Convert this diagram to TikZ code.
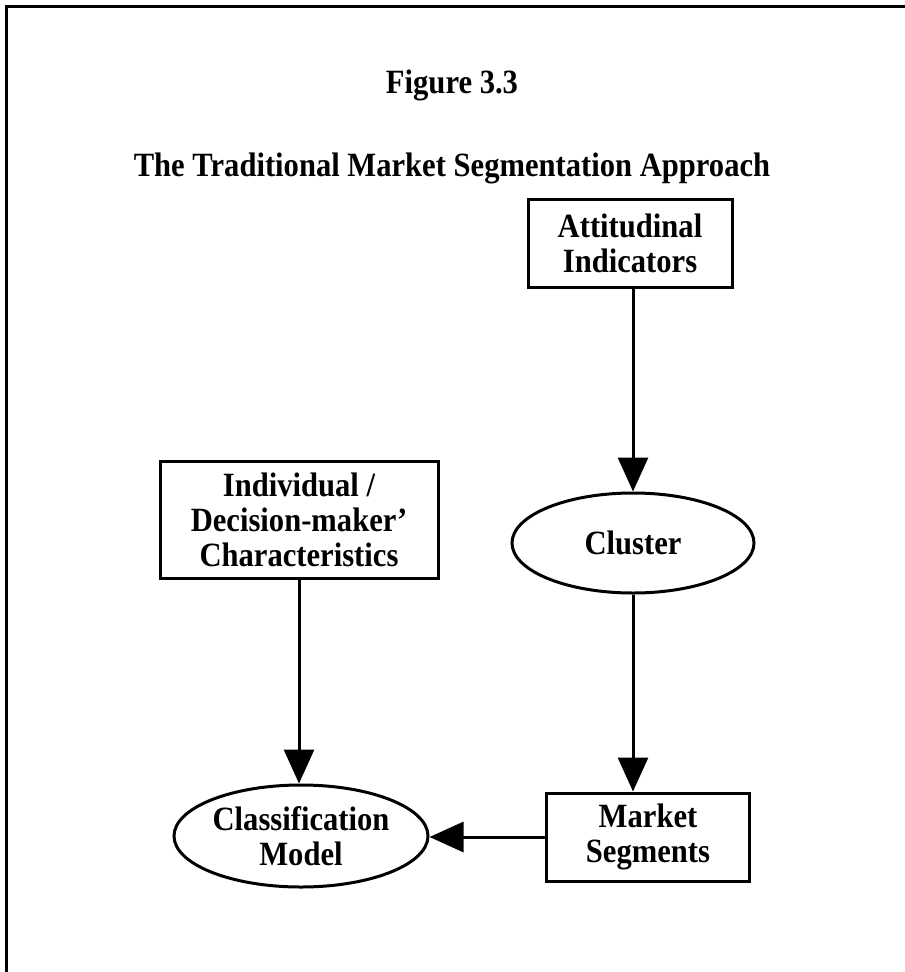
\documentclass[tikz,border=0pt]{standalone}
\usepackage{fontspec}
\setmainfont{Liberation Serif}[FakeStretch=0.9]
\usetikzlibrary{shapes.geometric,arrows.meta}
\tikzset{
  txt/.style={font=\bfseries\fontsize{34}{35}\selectfont, align=center, inner sep=0pt},
  boxnode/.style={txt, draw, line width=3pt, rectangle},
  ovalnode/.style={txt, draw, line width=3pt, ellipse, inner sep=0pt},
  arr/.style={line width=3pt, -{Triangle[length=34pt,width=30pt]}},
  frame/.style={line width=3pt}
}
\begin{document}
\begin{tikzpicture}[x=1pt,y=-1pt]
\useasboundingbox (0,0) rectangle (905,972);
\coordinate (ftl) at (6,6);
\coordinate (ftr) at (905,6);
\coordinate (fbl) at (6,972);
\draw[frame] (fbl) -- (ftl) -- (ftr);
\node[txt] (fig) at (452,85) {Figure 3.3};
\node[txt] (title) at (452,168) {The Traditional Market Segmentation Approach};
\node[boxnode, minimum width=204pt, minimum height=88pt] (att) at (630,243) {Attitudinal\\Indicators};
\node[ovalnode, minimum width=242pt, minimum height=100pt] (clu) at (633,543) {Cluster};
\node[boxnode, minimum width=278pt, minimum height=117pt] (ind) at (299,520) {Individual /\\Decision-maker'\\Characteristics};
\node[boxnode, minimum width=203pt, minimum height=88pt] (mkt) at (648,837) {Market\\Segments};
\node[ovalnode, minimum width=254pt, minimum height=102pt] (cls) at (301,836) {Classification\\Model};
\draw[arr] (clu.north |- att.south) -- (clu.north);
\draw[arr] (clu.south) -- (clu.south |- mkt.north);
\draw[arr] (ind.south) -- (ind.south |- cls.north);
\draw[arr] (mkt.west) -- (mkt.west -| cls.east);
\end{tikzpicture}
\end{document}
